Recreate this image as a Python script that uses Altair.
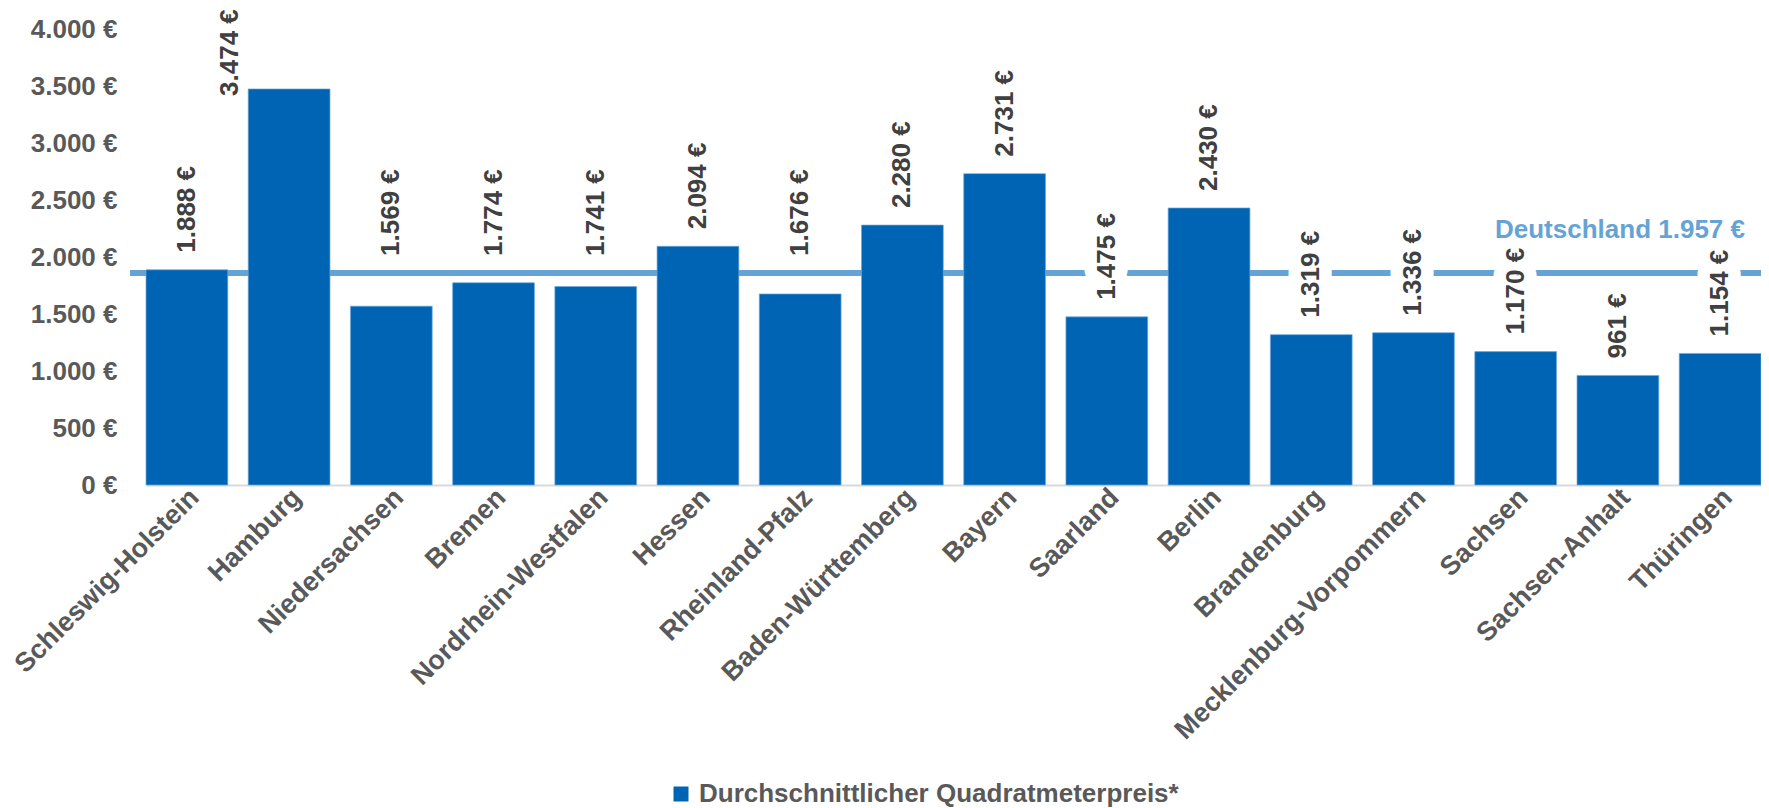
import altair as alt
import pandas as pd

# ---------------- data ----------------
states = [
    "Schleswig-Holstein", "Hamburg", "Niedersachsen", "Bremen",
    "Nordrhein-Westfalen", "Hessen", "Rheinland-Pfalz", "Baden-Württemberg",
    "Bayern", "Saarland", "Berlin", "Brandenburg",
    "Mecklenburg-Vorpommern", "Sachsen", "Sachsen-Anhalt", "Thüringen",
]
prices = [1888, 3474, 1569, 1774, 1741, 2094, 1676, 2280,
          2731, 1475, 2430, 1319, 1336, 1170, 961, 1154]
series_name = "Durchschnittlicher Quadratmeterpreis*"
germany_label = "Deutschland 1.957 €"
germany_line = 1860          # height at which the national line is drawn in the picture
y_ticks = [0, 500, 1000, 1500, 2000, 2500, 3000, 3500, 4000]

# ---------------- styling ----------------
FONT = "Liberation Sans"
BAR = "#0064B4"
LINE = "#66A3D5"
AXIS_TXT = "#595959"
VAL_TXT = "#404040"
W, H = 1615, 456


def euro(v):
    return f"{v:,}".replace(",", ".") + " €"


df = pd.DataFrame({
    "state": states,
    "price": prices,
    "label": [euro(v) for v in prices],
    "series": series_name,
})
lifted = set(states[:9])  # labels of these states were moved above the national line
df["anchor"] = [max(v, germany_line) if s in lifted else v for s, v in zip(states, prices)]

line_df = pd.DataFrame({"value": [germany_line], "label": [germany_label]})

x_enc = alt.X(
    "state:N", sort=states,
    scale=alt.Scale(paddingInner=0.2, paddingOuter=0),
    axis=alt.Axis(
        title=None, labelAngle=-45, labelAlign="right", labelBaseline="middle",
        labelFont=FONT, labelFontSize=27, labelFontWeight="bold", labelColor=AXIS_TXT,
        ticks=False, domainColor="#D9D9D9", domainWidth=2, labelPadding=8, labelOffset=8,
        labelLimit=0,
    ),
)
y_scale = alt.Scale(domain=[0, 4000], nice=False)
y_axis = alt.Axis(
    title=None, values=y_ticks, grid=False, domain=False, ticks=False,
    labelExpr="replace(format(datum.value, ',d'), ',', '.') + ' €'",
    labelFont=FONT, labelFontSize=26, labelFontWeight="bold",
    labelColor=AXIS_TXT, labelPadding=29,
)


def y_of(field):
    return alt.Y(field, scale=y_scale, axis=y_axis, title=None)


rule = alt.Chart(line_df).mark_rule(color=LINE, strokeWidth=6).encode(
    y=y_of("value:Q"),
    x=alt.value(-16), x2=alt.value(W),
)

others = df[df["state"] != "Hamburg"]
hamburg = df[df["state"] == "Hamburg"]

halo = alt.Chart(others).mark_text(
    angle=270, align="left", baseline="middle", dx=17,
    font=FONT, fontSize=26, fontWeight="bold",
    color="white", stroke="white", strokeWidth=25, strokeJoin="round",
).encode(x=x_enc, y=y_of("anchor:Q"), text="label:N")

bars = alt.Chart(df).mark_bar(stroke="#6FA8DC", strokeWidth=1, strokeOpacity=0.7).encode(
    x=x_enc,
    y=y_of("price:Q"),
    color=alt.Color(
        "series:N", scale=alt.Scale(range=[BAR]),
        legend=alt.Legend(
            title=None, orient="none", legendX=522, legendY=752,
            symbolType="square", symbolSize=225, symbolStrokeWidth=0,
            labelFont=FONT, labelFontSize=26, labelFontWeight="bold",
            labelColor=AXIS_TXT, labelOffset=5, labelLimit=0, padding=0,
        ),
    ),
)

texts = alt.Chart(others).mark_text(
    angle=270, align="left", baseline="middle", dx=17,
    font=FONT, fontSize=26, fontWeight="bold", color=VAL_TXT,
).encode(x=x_enc, y=y_of("anchor:Q"), text="label:N")

hamburg_text = alt.Chart(hamburg).mark_text(
    angle=270, align="left", baseline="middle", dx=-7, xOffset=-59,
    font=FONT, fontSize=26, fontWeight="bold", color=VAL_TXT,
).encode(x=x_enc, y=y_of("anchor:Q"), text="label:N")

germany_text = alt.Chart(line_df).mark_text(
    align="right", baseline="middle", dx=-16, dy=-43,
    font=FONT, fontSize=26, fontWeight="bold", color=LINE,
).encode(x=alt.value(W), y=y_of("value:Q"), text="label:N")

chart = alt.layer(rule, halo, bars, texts, hamburg_text, germany_text).properties(
    width=W, height=H,
    padding={"left": 138, "top": 21, "right": 0, "bottom": 323},
    autosize=alt.AutoSizeParams(type="none"),
).configure_view(stroke=None)

chart.save("out.html", embed_options={"renderer": "svg", "actions": False})
